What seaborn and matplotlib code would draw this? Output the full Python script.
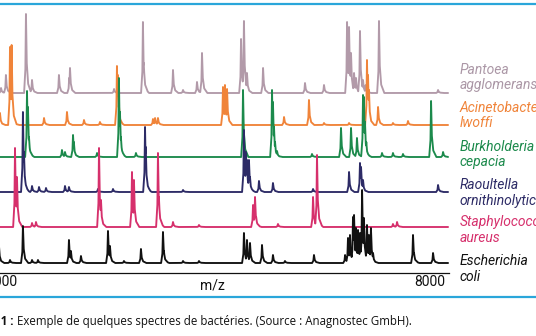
import numpy as np
import pandas as pd
import matplotlib
matplotlib.use("Agg")
import matplotlib.pyplot as plt
from matplotlib.lines import Line2D
from matplotlib.transforms import ScaledTranslation
import seaborn as sns

# ---------------- data (peak lists) ----------------
species = ["Pantoea agglomerans", "Acinetobacter lwoffi", "Burkholderia cepacia",
           "Raoultella ornithinolytica", "Staphylococcus aureus", "Escherichia coli"]
label_lines = [("Pantoea", "agglomerans"), ("Acinetobacter", "lwoffi"),
               ("Burkholderia", "cepacia"), ("Raoultella", "ornithinolytica"),
               ("Staphylococcus", "aureus"), ("Escherichia", "coli")]

pantoea_mz = [4155, 4197, 4369, 4421, 4652, 4740, 4747, 5125, 5373, 5380, 5631, 5717,
              5837, 5880, 6215, 6240, 6266, 6404, 6764, 6927, 7125, 7142, 7159, 7185,
              7202, 7236, 7262, 7285, 7399, 7906]
pantoea_int = [5, 18, 79, 13, 18, 15, 25, 4, 71, 30, 23, 3,
               11, 40, 54, 72, 20, 25, 10, 8, 71, 66, 40, 20,
               15, 62, 13, 8, 72, 3]

acineto_mz = [4137, 4146, 4232, 4246, 4266, 4524, 4721, 4867, 5004, 5150, 5158, 5167,
              5459, 5477, 5502, 6060, 6077, 6095, 6584, 6798, 6927, 7142, 7296, 7305,
              7313, 7391, 7519, 7648]
acineto_int = [14, 12, 78, 80, 8, 7, 13, 5, 3, 59, 50, 20,
               6, 7, 7, 38, 40, 36, 8, 25, 2, 2, 65, 50,
               35, 18, 2, 4]

burkho_mz = [4378, 4386, 4395, 4678, 4704, 4773, 4780, 4979, 5167, 5176, 5184, 5313,
             6232, 6481, 6489, 6498, 6507, 6524, 6824, 7073, 7159, 7210, 7262, 7270,
             7279, 7290, 7425, 7519, 7605, 7846, 7949]
burkho_int = [66, 50, 20, 7, 5, 22, 15, 4, 79, 45, 20, 4,
              67, 67, 55, 30, 15, 6, 3, 29, 29, 19, 62, 60,
              35, 15, 4, 4, 3, 56, 5]

raoul_mz = [4343, 4352, 4360, 4421, 4481, 4541, 4704, 4738, 4987, 5116, 5391, 5397,
            5405, 5717, 6240, 6257, 6266, 6283, 6292, 6369, 6489, 6833, 7142, 7236,
            7245, 7262, 7906]
raoul_int = [80, 40, 15, 6, 5, 4, 6, 5, 3, 3, 65, 45,
             15, 2, 62, 40, 32, 32, 15, 11, 9, 3, 20, 29,
             25, 12, 7]

staph_mz = [4275, 4292, 4421, 4455, 4996, 5013, 5279, 5296, 5502, 5510, 5631, 5854,
            6318, 6335, 6345, 6532, 6833, 6867, 6875, 7519, 7554]
staph_int = [79, 50, 4, 5, 79, 27, 55, 47, 74, 30, 5, 2,
             22, 30, 10, 3, 30, 72, 25, 3, 5]

ecoli_mz = [4137, 4232, 4343, 4421, 4472, 4738, 4755, 4841, 5073, 5090, 5210, 5356,
            5545, 5553, 5717, 5854, 6240, 6266, 6292, 6395, 6489, 6592, 6841, 7108,
            7133, 7150, 7176, 7185, 7202, 7219, 7236, 7254, 7270, 7296, 7313, 7330,
            7348, 7691, 7700, 7863]
ecoli_int = [18, 3, 37, 3, 3, 23, 12, 7, 32, 17, 2, 14,
             31, 12, 2, 2, 30, 23, 20, 18, 8, 2, 8, 8,
             25, 28, 46, 48, 35, 33, 30, 73, 45, 38, 28, 35,
             10, 28, 10, 10]

x_ticks = [4000, 8000]
x_tick_labels = ["4000", "8000"]
mz_start, mz_end = 3966, 7992

# ---------------- styling / layout ----------------
colors = ["#b29aa9", "#f0843a", "#1c8a4c", "#2d2b66", "#d6306c", "#111111"]
text_colors = ["#ab97a6", "#f0843a", "#1c8a4c", "#2d2b66", "#d6306c", "#111111"]
offsets = [180, 148, 116, 81, 46, 10]          # vertical stacking of spectra
label_centers_px = [77.5, 115.5, 154.5, 193, 230, 269]
# peak outline (relative m/z positions and relative heights) - drawing style
shape_dx = [-16, -5, 0, 6, 18, 45]
shape_fy = [0, 0.3, 1, 0.4, 0.12, 0]

peaks = [(pantoea_mz, pantoea_int), (acineto_mz, acineto_int), (burkho_mz, burkho_int),
         (raoul_mz, raoul_int), (staph_mz, staph_int), (ecoli_mz, ecoli_int)]

grid = np.arange(mz_start, mz_end + 1, 1.0)
frames = []
for name, (mzs, ints), off in zip(species, peaks, offsets):
    prof = np.zeros_like(grid)
    for p, h in zip(mzs, ints):
        shape = np.interp(grid, [p + d for d in shape_dx], [h * f for f in shape_fy],
                          left=0, right=0)
        prof = np.maximum(prof, shape)
    frames.append(pd.DataFrame({"mz": grid, "y": prof + off, "species": name}))
df = pd.concat(frames, ignore_index=True)

sns.set_style("white")
plt.rcParams["font.family"] = ["Roboto", "DejaVu Sans"]

W, H = 536, 336
fig = plt.figure(figsize=(W / 100, H / 100), dpi=100)
ax = fig.add_axes([-21 / W, 63 / H, 470 / W, 265 / H])

sns.lineplot(data=df, x="mz", y="y", hue="species", hue_order=species,
             palette=dict(zip(species, colors)), estimator=None, sort=False,
             legend=False, linewidth=1.35, ax=ax)

ax.set_xlim(mz_start, 8000)
ax.set_ylim(0, 265)
ax.set_yticks([])
ax.set_ylabel("")
for s in ["left", "top", "right"]:
    ax.spines[s].set_visible(False)
ax.spines["bottom"].set_color("#111111")
ax.spines["bottom"].set_linewidth(0.9)

ax.set_xticks(x_ticks, x_tick_labels)
ax.tick_params(axis="x", direction="out", length=6.5, width=0.9, color="#111111",
               pad=-4.8, labelsize=10, labelcolor="#111111")
tl = ax.get_xticklabels()
tl[0].set_ha("left")
tl[0].set_transform(tl[0].get_transform() + ScaledTranslation(4 / 100, 0, fig.dpi_scale_trans))
tl[1].set_ha("right")
tl[1].set_transform(tl[1].get_transform() + ScaledTranslation(-4 / 100, 0, fig.dpi_scale_trans))

ax.set_xlabel("m/z", fontsize=10, color="#111111")
ax.xaxis.set_label_coords((212 + 21) / 470, -12 / 265)
ax.xaxis.label.set_va("center")

for (l1, l2), c, yc in zip(label_lines, text_colors, label_centers_px):
    fig.text(460 / W, 1 - yc / H, l1 + "\n" + l2, color=c, fontsize=10,
             style="italic", va="center", ha="left", linespacing=1.1)

blue = "#2aa6da"
fig.add_artist(Line2D([0, 1], [1 - 4 / H, 1 - 4 / H], transform=fig.transFigure,
                      color=blue, lw=1.6))
fig.add_artist(Line2D([0, 1], [1 - 297 / H, 1 - 297 / H], transform=fig.transFigure,
                      color=blue, lw=1.6))

fig.text(13 / W, 1 - 322 / H, "Figure 1 :", fontsize=8.3, fontweight="bold",
         ha="right", va="center", color="#111111", family=["Open Sans", "DejaVu Sans"])
fig.text(17 / W, 1 - 322 / H,
         "Exemple de quelques spectres de bactéries. (Source\u00a0: Anagnostec GmbH).",
         fontsize=8.3, ha="left", va="center", color="#111111",
         family=["Open Sans", "DejaVu Sans"])

fig.savefig("out.png", dpi=100)
